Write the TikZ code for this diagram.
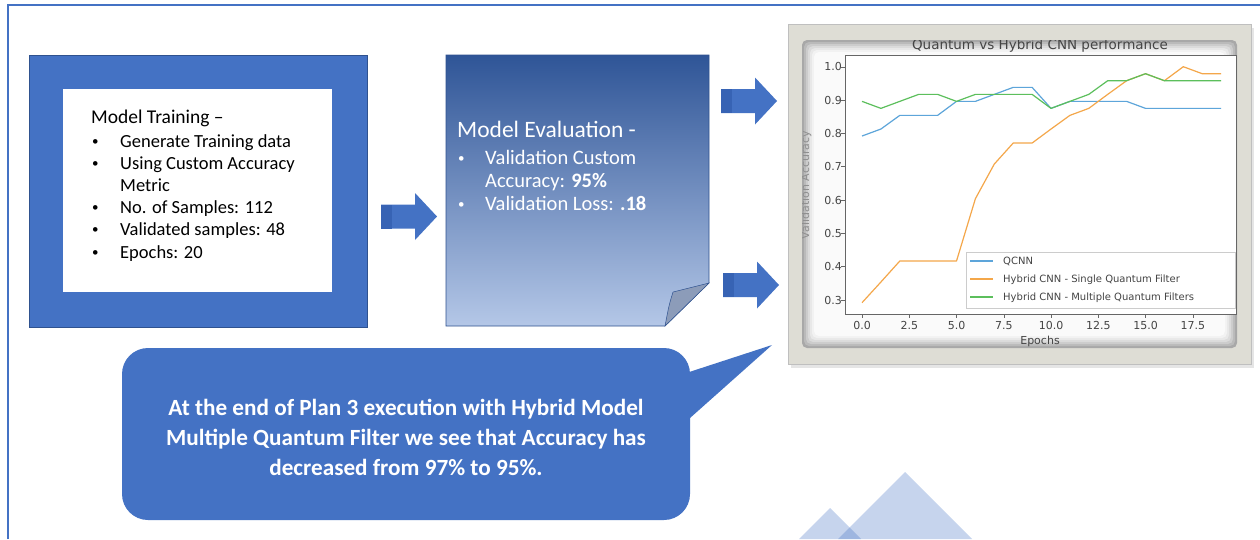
\documentclass[tikz,border=0pt]{standalone}
\usepackage{fontspec}
\setmainfont{Carlito}
\newfontfamily\plotfont{DejaVu Sans}
\definecolor{frameblue}{HTML}{4472C4}
\definecolor{edgeblue}{HTML}{2F528F}
\definecolor{darkarrow}{HTML}{3763B4}
\definecolor{evaltop}{HTML}{2F5597}
\definecolor{evalbottom}{HTML}{B4C7E7}
\definecolor{foldgray}{HTML}{8C9CB9}
\definecolor{chartframe}{HTML}{DEDDD5}
\definecolor{qblue}{HTML}{5DA5DA}
\definecolor{qorange}{HTML}{F4A74A}
\definecolor{qgreen}{HTML}{5CBF5C}
\definecolor{ticktext}{HTML}{444444}
\tikzset{
  trainitem/.style={anchor=base west,inner sep=0,font=\fontsize{18.5}{22}\selectfont},
  evalitem/.style={anchor=base west,inner sep=0,text=white,font=\fontsize{20.5}{23}\selectfont},
  dotitem/.style={anchor=base west,inner sep=0,font=\fontsize{13}{13}\selectfont},
  noteline/.style={anchor=base,inner sep=0,text=white,font=\bfseries\fontsize{23.2}{30}\selectfont},
  ticklabel/.style={inner sep=0,text=ticktext,font=\plotfont\fontsize{11}{13}\selectfont},
  legenditem/.style={anchor=base west,inner sep=0,text=ticktext,font=\plotfont\fontsize{10}{12}\selectfont},
}
\begin{document}
\begin{tikzpicture}[x=1pt,y=-1pt] % training -> evaluation -> chart, with note
\useasboundingbox (0,0) rectangle (1260,539);
\fill[white] (0,0) rectangle (1260,539);
\draw[frameblue,line width=2] (8,539) -- (8,5) -- (1260,5);

% training box
\filldraw[fill=frameblue,draw=edgeblue,line width=0.6] (29,55) rectangle (367,327);
\fill[white] (63,89) rectangle (332,292);
\node[trainitem,font=\fontsize{19.5}{22}\selectfont] (train) at (91,123) {Model Training –};
\foreach \y / \t in {147/Generate Training data,169/Using Custom Accuracy,191/Metric,213/No. of Samples: 112,235/Validated samples: 48,258/Epochs: 20}
    {\node[trainitem] (tr\y) at (120,\y) {\t};}
\foreach \y in {147,169,213,235,258}
    {\node[dotitem] (trb\y) at (92,\y-2) {•};}

% block arrows
\foreach \x / \y in {381/216.5,721/101,723/285}
    {\fill[frameblue] (\x,\y-12) -- (\x+34,\y-12) -- (\x+34,\y-23.5) -- (\x+56,\y) -- (\x+34,\y+23.5) -- (\x+34,\y+12) -- (\x,\y+12) -- cycle;
     \fill[darkarrow] (\x,\y-12) rectangle (\x+11,\y+12);}

% evaluation box with folded corner
\shade[top color=evaltop,bottom color=evalbottom] (446,55) -- (709,55) -- (709,283) -- (665,326) -- (446,326) -- cycle;
\draw[edgeblue,line width=0.6] (446,55) -- (709,55) -- (709,283) -- (665,326) -- (446,326) -- cycle;
\filldraw[fill=foldgray,draw=edgeblue,line width=0.5] (709,283) -- (673,292) .. controls (669,305) .. (665,326) -- cycle;
\node[evalitem,font=\fontsize{23.5}{25}\selectfont] (eval) at (457,137) {Model Evaluation -};
\foreach \y / \t in {164/Validation Custom,187/Accuracy: \textbf{95\%},210/Validation Loss: \textbf{.18}}
    {\node[evalitem] (ev\y) at (485,\y) {\t};}
\foreach \y in {164,210}
    {\node[dotitem,text=white] (evb\y) at (458,\y-2) {•};}

% chart frame
\fill[black!10] (791,28) rectangle (1254,368);
\filldraw[fill=chartframe,draw=black!25] (788,24) rectangle (1251,364);
\foreach \i / \c in {0/34,2/27,4/20,6/14,8/9,10/5,12/2}
    {\fill[black!\c,rounded corners=5] (802+\i,40+\i) rectangle (1237-\i,348-\i);}
\fill[white] (845,55) rectangle (1236,314);
\draw[black!60,line width=0.7] (845,55) rectangle (1236,314);
\begin{scope}
\clip (802,40) rectangle (1237,348);
\node[ticklabel,anchor=base,font=\plotfont\fontsize{13.5}{15}\selectfont] (title) at (1040,49) {Quantum vs Hybrid CNN performance};
\node[ticklabel,anchor=north] (xlabel) at (1040,336) {Epochs};
\node[ticklabel,rotate=90,text=ticktext!60] (ylabel) at (806,185) {Validation Accuracy};
\end{scope}
\foreach \v / \l in {3/0.3,4/0.4,5/0.5,6/0.6,7/0.7,8/0.8,9/0.9,10/1.0}
    {\draw[black!60] (841,{400-33.33*\v}) -- (845,{400-33.33*\v}) node[ticklabel,anchor=east,xshift=-3pt] (yt\v) {\l};}
\foreach \e / \l in {0/0.0,2.5/2.5,5/5.0,7.5/7.5,10/10.0,12.5/12.5,15/15.0,17.5/17.5}
    {\draw[black!60] ({862+18.9*\e},314) -- ({862+18.9*\e},318) node[ticklabel,anchor=north,yshift=-3pt] (xt\e) {\l};}

\begin{scope}[shift={(862,400)},x=18.9pt,y=333.3pt,line width=1.2,line join=round]
\draw[qblue] plot coordinates {(0,.792) (1,.813) (2,.854) (3,.854) (4,.854) (5,.896) (6,.896) (7,.917) (8,.938) (9,.938) (10,.875) (11,.896) (12,.896) (13,.896) (14,.896) (15,.875) (16,.875) (17,.875) (18,.875) (19,.875)};
\draw[qorange] plot coordinates {(0,.292) (1,.354) (2,.417) (3,.417) (4,.417) (5,.417) (6,.604) (7,.708) (8,.771) (9,.771) (10,.813) (11,.854) (12,.875) (13,.917) (14,.958) (15,.979) (16,.958) (17,1.0) (18,.979) (19,.979)};
\draw[qgreen] plot coordinates {(0,.896) (1,.875) (2,.896) (3,.917) (4,.917) (5,.896) (6,.917) (7,.917) (8,.917) (9,.917) (10,.875) (11,.896) (12,.917) (13,.958) (14,.958) (15,.979) (16,.958) (17,.958) (18,.958) (19,.958)};
\end{scope}

% legend
\filldraw[fill=white,draw=black!20] (966,252) rectangle (1235,308);
\foreach \y / \c / \t in {261/qblue/QCNN,279/qorange/Hybrid CNN - Single Quantum Filter,297/qgreen/Hybrid CNN - Multiple Quantum Filters}
    {\draw[\c,line width=1.5] (970,\y) -- (993,\y);
     \node[legenditem] (leg\y) at (1003,\y+3.5) {\t};}

% note bubble
\fill[frameblue,rounded corners=26] (122,348) rectangle (690,520);
\fill[frameblue] (680,375) -- (772,345) -- (690,418) -- (680,418) -- cycle;
\foreach \y / \t in {415/At the end of Plan 3 execution with Hybrid Model,445/Multiple Quantum Filter we see that Accuracy has,475/decreased from 97\% to 95\%.}
    {\node[noteline] (note\y) at (406,\y) {\t};}

% faint triangles
\fill[frameblue,opacity=0.3] (838,539) -- (905,472) -- (972,539) -- cycle;
\fill[frameblue,opacity=0.3] (799,539) -- (830,508) -- (861,539) -- cycle;
\end{tikzpicture}
\end{document}
